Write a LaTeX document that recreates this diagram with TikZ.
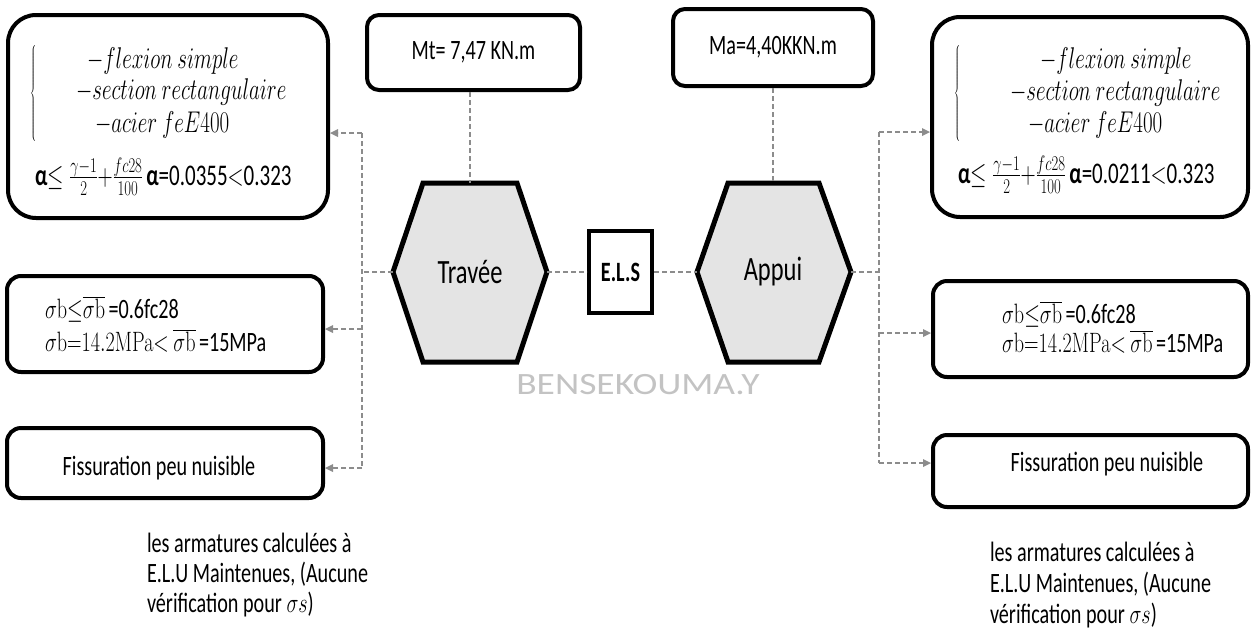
\RequirePackage{fix-cm}
\documentclass[tikz,border=0pt]{standalone}
\usepackage[no-math]{fontspec}
\setmainfont{Carlito}
\usepackage{graphicx}
\usetikzlibrary{arrows.meta,calc}
\definecolor{conngray}{RGB}{140,140,140}
\definecolor{hexfill}{RGB}{228,228,228}
\definecolor{wmgray}{RGB}{195,195,195}
\newcommand{\sq}[1]{\scalebox{0.72}[1]{#1}}
\newcommand{\sqm}[1]{\scalebox{0.70}[1]{#1}}
\newcommand{\fs}[1]{\fontsize{#1}{#1}\selectfont}
\begin{document}
\begin{tikzpicture}[x=1pt,y=-1pt,
  box/.style={draw=black,line width=4pt,rounded corners=#1,inner sep=0pt,fill=white},
  box/.default=15pt,
  hexbox/.style={draw=black,line width=5pt,fill=hexfill,line join=miter},
  txt/.style={inner sep=0pt,outer sep=0pt},
  conn/.style={draw=conngray,line width=1.6pt,dash pattern=on 5pt off 3pt},
  arr/.style={conn,-{Triangle[length=8pt,width=8pt,fill=conngray,line width=0pt]}}]
\useasboundingbox (0,0) rectangle (1253,630);
% ---- boxes
\node[box=28pt,minimum width=320pt,minimum height=203pt] (tl) at (168,116.5) {};
\node[box=14pt,minimum width=316pt,minimum height=96pt] (lm) at (165,324) {};
\node[box=14pt,minimum width=316pt,minimum height=70pt] (lb) at (165,463) {};
\node[box=28pt,minimum width=316pt,minimum height=200pt] (tr) at (1090,117) {};
\node[box=14pt,minimum width=315pt,minimum height=96pt] (rm) at (1090.5,329) {};
\node[box=14pt,minimum width=315pt,minimum height=72pt] (rb) at (1090.5,471) {};
\node[box=12pt,minimum width=213pt,minimum height=75pt] (mt) at (473.5,52.5) {\sq{\fs{28}Mt= 7,47 KN.m}};
\node[box=12pt,minimum width=200pt,minimum height=77pt] (ma) at (773,47.5) {\sq{\fs{28}Ma=4,40KKN.m}};
\node[draw=black,line width=4pt,fill=white,minimum width=63pt,minimum height=82pt,inner sep=0pt] (els) at (620.5,272) {\sq{\fs{28}\bfseries E.L.S}};
% ---- hexagons
\draw[hexbox] (423,183) -- (517,183) -- (547,272) -- (517,362) -- (423,362) -- (393,272) -- cycle;
\draw[hexbox] (728,183) -- (819,183) -- (851,272) -- (819,362) -- (728,362) -- (697,272) -- cycle;
\node[txt] (trav) at (470,272) {\sq{\fs{34}Travée}};
\node[txt] (app) at (773,272) {\sq{\fs{34}Appui}};
\coordinate (travT) at (470,183);
\coordinate (travL) at (393,272);
\coordinate (travR) at (547,272);
\coordinate (appT) at (773,183);
\coordinate (appL) at (697,272);
\coordinate (appR) at (851,272);
% ---- top-left content
\node[txt,anchor=west] (tlbr) at (30,95) {\sqm{\fs{30}$\left\{\vrule height 43pt depth 43pt width 0pt\right.$}};
\node[txt,anchor=base west] (tl1) at (87,68) {\sqm{\fs{30}$-flexion\ simple$}};
\node[txt,anchor=base west] (tl2) at (76,99) {\sqm{\fs{30}$-section\ rectangulaire$}};
\node[txt,anchor=base west] (tl3) at (95,132) {\sqm{\fs{30}$-acier\ feE400$}};
\node[txt,anchor=base west] (tl4) at (35,185) {\sqm{\fs{30}\textbf{α}$\leq\frac{\gamma-1}{2}{+}\frac{fc28}{100}$\,\textbf{α}=0.0355$<$0.323}};
% ---- top-right content
\node[txt,anchor=west] (trbr) at (954,95) {\sqm{\fs{30}$\left\{\vrule height 43pt depth 43pt width 0pt\right.$}};
\node[txt,anchor=base west] (tr1) at (1040,68) {\sqm{\fs{30}$-flexion\ simple$}};
\node[txt,anchor=base west] (tr2) at (1010,100) {\sqm{\fs{30}$-section\ rectangulaire$}};
\node[txt,anchor=base west] (tr3) at (1028,132) {\sqm{\fs{30}$-acier\ feE400$}};
\node[txt,anchor=base west] (tr4) at (958,183) {\sqm{\fs{30}\textbf{α}$\leq\frac{\gamma-1}{2}{+}\frac{fc28}{100}$\,\textbf{α}=0.0211$<$0.323}};
% ---- sigma boxes
\node[txt,anchor=base west] (lm1) at (45,318) {\sq{\fs{28}$\sigma\mathrm{b}{\leq}\overline{\sigma\mathrm{b}}$\,=0.6fc28}};
\node[txt,anchor=base west] (lm2) at (45,351) {\sq{\fs{28}$\sigma\mathrm{b}{=}14.2\mathrm{MPa}{<}\ \overline{\sigma\mathrm{b}}$\,=15MPa}};
\node[txt,anchor=base west] (rm1) at (1002,323) {\sq{\fs{28}$\sigma\mathrm{b}{\leq}\overline{\sigma\mathrm{b}}$\,=0.6fc28}};
\node[txt,anchor=base west] (rm2) at (1002,352) {\sq{\fs{28}$\sigma\mathrm{b}{=}14.2\mathrm{MPa}{<}\ \overline{\sigma\mathrm{b}}$\,=15MPa}};
% ---- fissuration
\node[txt] (lbt) at (159,468) {\sq{\fs{28}Fissuration peu nuisible}};
\node[txt] (rbt) at (1107,464) {\sq{\fs{28}Fissuration peu nuisible}};
% ---- bottom notes
\node[txt,anchor=base west] (ln) at (147,552) {\sq{\fontsize{28}{30}\selectfont\begin{tabular}[t]{@{}l@{}}les armatures calculées à\\E.L.U Maintenues, (Aucune\\vérification pour $\sigma s$)\end{tabular}}};
\node[txt,anchor=base west] (rn) at (990,561) {\sq{\fontsize{28}{31}\selectfont\begin{tabular}[t]{@{}l@{}}les armatures calculées à\\E.L.U Maintenues, (Aucune\\vérification pour $\sigma s$)\end{tabular}}};
% ---- watermark
\node[txt,text=wmgray] (wm) at (638,385) {\scalebox{1.21}[1]{\fs{31}BENSEKOUMA.Y}};
% ---- connectors
\draw[conn] (travT |- mt.south) -- (travT);
\draw[conn] (appT |- ma.south) -- (appT);
\draw[conn] (travR) -- (els.west);
\draw[conn] (els.east) -- (appL);
\coordinate (jL) at (362,272);
\coordinate (jLT) at (362,133);
\coordinate (jLM) at (362,329);
\coordinate (jLB) at (362,468);
\draw[conn] (travL) -- (jL);
\draw[conn] (jLT) -- (jLB);
\draw[arr] (jLT) -- (jLT -| tl.east);
\draw[arr] (jLM) -- (jLM -| lm.east);
\draw[arr] (jLB) -- (jLB -| lb.east);
\coordinate (jR) at (879,272);
\coordinate (jRT) at (879,132);
\coordinate (jRM) at (879,333);
\coordinate (jRB) at (879,463);
\draw[conn] (appR) -- (jR);
\draw[conn] (jRT) -- (jRB);
\draw[arr] (jRT) -- (jRT -| tr.west);
\draw[arr] (jRM) -- (jRM -| rm.west);
\draw[arr] (jRB) -- (jRB -| rb.west);
\end{tikzpicture}
\end{document}
